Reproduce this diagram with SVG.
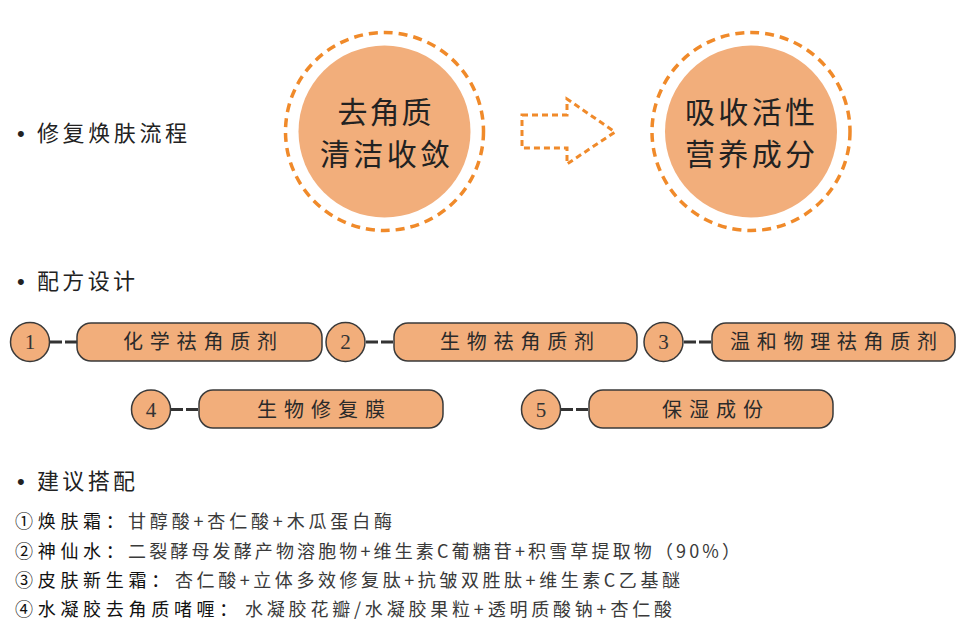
<svg xmlns="http://www.w3.org/2000/svg" width="966" height="628" viewBox="0 0 966 628">
<style>
.cjk{font-family:"Noto Sans CJK SC","Noto Sans",sans-serif}
.hdr{font-size:22px;fill:#222}
.dot{font-family:"Liberation Sans",Arial,sans-serif;font-size:22px;fill:#222}
.big{font-size:30px;fill:#222;text-anchor:middle}
.ring{fill:none;stroke:#F08A2A;stroke-width:3.5;stroke-dasharray:9 6}
.blob{fill:#F2AE7B}
.pill{fill:#F2AE7B;stroke:#3a3a3a;stroke-width:1.5}
.ptxt{font-size:20px;fill:#2a2a2a;text-anchor:middle}
.num{font-family:"Liberation Serif","DejaVu Serif",serif;font-size:21px;fill:#333;text-anchor:middle}
.conn{stroke:#333;stroke-width:3;stroke-dasharray:12 3;fill:none}
.lbl{font-size:18px;fill:#111;letter-spacing:4.7px}
.cnt{font-size:18px;fill:#3a3a3a}
</style>

<g id="heading-1"><text x="17" y="141"><tspan class="dot">•</tspan><tspan class="cjk hdr" x="37" textLength="150">修复焕肤流程</tspan></text></g>
<g id="heading-2"><text x="17" y="289"><tspan class="dot">•</tspan><tspan class="cjk hdr" x="37" textLength="98">配方设计</tspan></text></g>
<g id="heading-3"><text x="17" y="489"><tspan class="dot">•</tspan><tspan class="cjk hdr" x="37" textLength="98">建议搭配</tspan></text></g>

<g id="step-1">
  <circle class="ring" cx="384.5" cy="131.5" r="99"/>
  <circle class="blob" cx="384.5" cy="131.5" r="86"/>
  <text class="cjk big" x="384.5" y="123" textLength="94">去角质</text>
  <text class="cjk big" x="385" y="165" textLength="130">清洁收敛</text>
</g>
<g id="step-2">
  <circle class="ring" cx="751" cy="131.5" r="99"/>
  <circle class="blob" cx="751" cy="131.5" r="86"/>
  <text class="cjk big" x="750" y="123" textLength="130">吸收活性</text>
  <text class="cjk big" x="750" y="165" textLength="130">营养成分</text>
</g>

<g id="connectors">
  <path d="M522,115 L567,115 L567,99 L615,132 L567,164 L567,148 L522,148 Z" fill="none" stroke="#F08A2A" stroke-width="3" stroke-dasharray="6 4" stroke-linejoin="miter"/>
  <line class="conn" x1="50" y1="342" x2="77" y2="342"/>
  <line class="conn" x1="366" y1="342" x2="394" y2="342"/>
  <line class="conn" x1="684" y1="342" x2="712" y2="342"/>
  <line class="conn" x1="171" y1="409.5" x2="199" y2="409.5"/>
  <line class="conn" x1="561" y1="409.5" x2="589" y2="409.5"/>
</g>

<g id="item-1">
  <circle class="pill" cx="30" cy="342" r="19.5"/>
  <text class="num" x="30" y="349">1</text>
  <rect class="pill" x="77" y="323" width="245" height="38" rx="14"/>
  <text class="cjk ptxt" x="200" y="349" textLength="154">化学祛角质剂</text>
</g>
<g id="item-2">
  <circle class="pill" cx="345.5" cy="342" r="19.5"/>
  <text class="num" x="345.5" y="349">2</text>
  <rect class="pill" x="394" y="323" width="243" height="38" rx="14"/>
  <text class="cjk ptxt" x="517" y="349" textLength="154">生物祛角质剂</text>
</g>
<g id="item-3">
  <circle class="pill" cx="663.5" cy="342" r="19.5"/>
  <text class="num" x="663.5" y="349">3</text>
  <rect class="pill" x="712" y="323" width="243" height="38" rx="14"/>
  <text class="cjk ptxt" x="833.5" y="349" textLength="207">温和物理祛角质剂</text>
</g>
<g id="item-4">
  <circle class="pill" cx="151" cy="409.5" r="19.5"/>
  <text class="num" x="151" y="416.5">4</text>
  <rect class="pill" x="199" y="390" width="244" height="38" rx="14"/>
  <text class="cjk ptxt" x="321" y="417" textLength="128">生物修复膜</text>
</g>
<g id="item-5">
  <circle class="pill" cx="541" cy="409.5" r="19.5"/>
  <text class="num" x="541" y="416.5">5</text>
  <rect class="pill" x="589" y="390" width="244" height="38" rx="14"/>
  <text class="cjk ptxt" x="712.5" y="417" textLength="101">保湿成份</text>
</g>

<g id="recommendations">
  <text class="cjk lbl" x="15" y="528">①焕肤霜：</text>
  <text class="cjk cnt" x="128" y="528" textLength="264" lengthAdjust="spacing">甘醇酸+杏仁酸+木瓜蛋白酶</text>
  <text class="cjk lbl" x="15" y="558">②神仙水：</text>
  <text class="cjk cnt" x="128" y="558" textLength="612" lengthAdjust="spacing">二裂酵母发酵产物溶胞物+维生素C葡糖苷+积雪草提取物（90%）</text>
  <text class="cjk lbl" x="15" y="587">③皮肤新生霜：</text>
  <text class="cjk cnt" x="175" y="587" textLength="505" lengthAdjust="spacing">杏仁酸+立体多效修复肽+抗皱双胜肽+维生素C乙基醚</text>
  <text class="cjk lbl" x="15" y="616">④水凝胶去角质啫喱：</text>
  <text class="cjk cnt" x="245" y="616" textLength="427" lengthAdjust="spacing">水凝胶花瓣/水凝胶果粒+透明质酸钠+杏仁酸</text>
</g>
</svg>
